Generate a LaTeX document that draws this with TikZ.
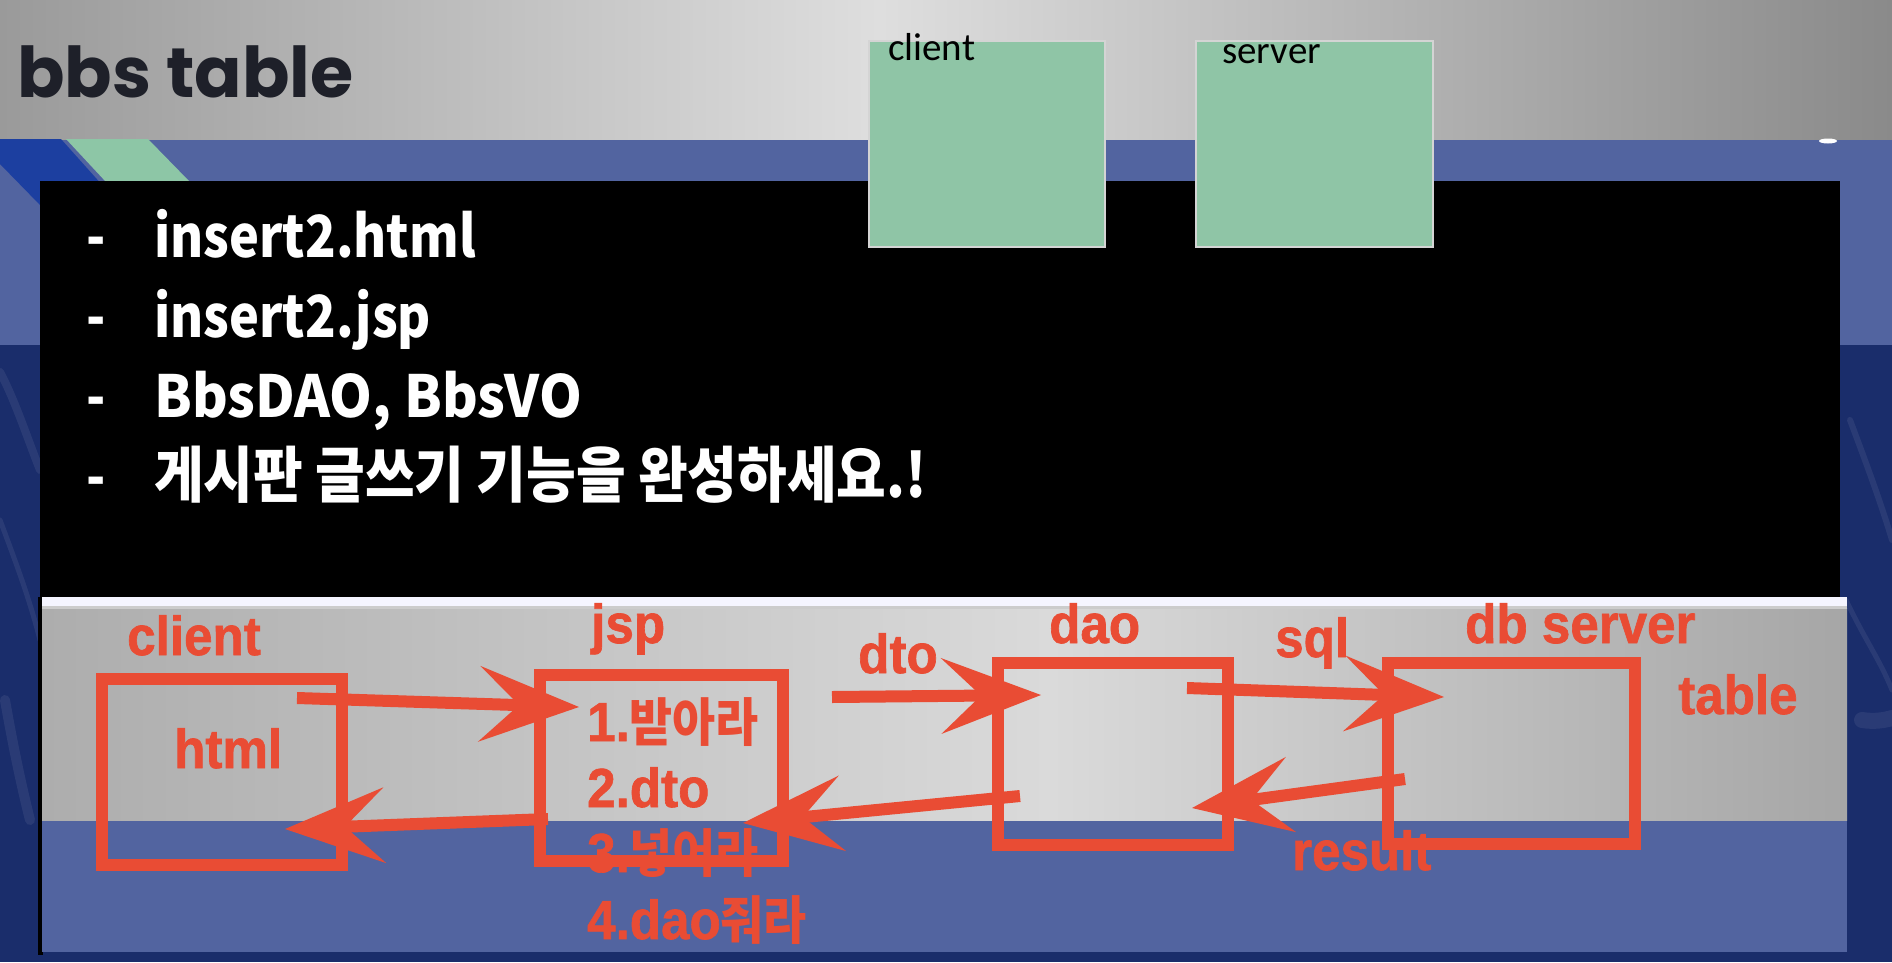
\documentclass[tikz,border=0pt]{standalone}
\usepackage{fontspec}
\usetikzlibrary{arrows.meta}
\newfontfamily\titlefont{Poppins}
\newfontfamily\carlfont{Carlito}
\newfontfamily\krfont{Noto Sans CJK KR}[FakeStretch=0.87]
\newfontfamily\krwide{Noto Sans CJK KR}[FakeStretch=0.94]
\newfontfamily\krnarrow{Noto Sans CJK KR}[FakeStretch=0.885]
\newfontfamily\redlatfont{Liberation Sans}[FakeStretch=0.93, FakeBold=1.2]
\newfontfamily\redkrfont{Noto Sans CJK KR}[FakeStretch=0.9]
\newcommand{\redL}{\redlatfont\bfseries\fontsize{55}{55}\selectfont}
\newcommand{\redK}{\redkrfont\bfseries\fontsize{52}{52}\selectfont}
\definecolor{hdrL}{HTML}{9A9A9A}
\definecolor{hdrM}{HTML}{DEDEDE}
\definecolor{hdrR}{HTML}{8A8A8A}
\definecolor{midblue}{HTML}{5264A0}
\definecolor{navy}{HTML}{1A2D6B}
\definecolor{darkblue}{HTML}{1C3FA0}
\definecolor{stripe}{HTML}{8DC6A6}
\definecolor{greenbox}{HTML}{8FC5A6}
\definecolor{greenedge}{HTML}{D4D4D4}
\definecolor{titlec}{HTML}{1E2029}
\definecolor{redc}{HTML}{E94C34}
\definecolor{imgL}{HTML}{ADADAD}
\definecolor{imgM}{HTML}{DADADA}
\definecolor{imgR}{HTML}{A6A6A6}
\tikzset{
  gbox/.style={draw=greenedge, line width=2pt, fill=greenbox, inner sep=0pt},
  glabel/.style={anchor=base west, inner sep=0pt, text=black, font=\carlfont\fontsize{39}{39}\selectfont},
  wtext/.style={anchor=base west, inner sep=0pt, text=white, font=\krfont\bfseries\fontsize{58}{58}\selectfont},
  wtextwide/.style={anchor=base west, inner sep=0pt, text=white, font=\krwide\bfseries\fontsize{58}{58}\selectfont},
  wkor/.style={anchor=base west, inner sep=0pt, text=white, font=\krnarrow\bfseries\fontsize{61}{61}\selectfont},
  rlabel/.style={anchor=base west, inner sep=0pt, text=redc},
  redbox/.style={draw=redc, line width=12pt, inner sep=0pt},
  redarrow/.style={draw=redc, line width=12pt,
    -{Stealth[length=100pt, width=76pt, inset=40pt, line width=0pt]}},
  streak/.style={white, opacity=0.07, line cap=round}
}
\begin{document}
\begin{tikzpicture}[x=1pt,y=-1pt]
\useasboundingbox (0,0) rectangle (1892,962);
% ---------- backgrounds ----------
\fill[navy] (0,0) rectangle (1892,962);
\fill[midblue] (0,139) rectangle (1892,345);
% photo streaks
\draw[streak, line width=8pt] (0,372) .. controls (15,400) and (28,440) .. (40,470);
\draw[streak, line width=5pt] (0,520) .. controls (15,560) and (30,600) .. (40,640);
\draw[streak, line width=10pt] (5,700) .. controls (12,740) and (20,780) .. (30,820);
\draw[streak, line width=6pt] (1850,420) .. controls (1865,460) and (1880,500) .. (1892,540);
\draw[streak, line width=16pt] (1862,720) .. controls (1875,722) and (1885,720) .. (1892,718);
\draw[streak, line width=5pt] (1846,600) .. controls (1865,640) and (1880,660) .. (1892,690);
% header
\shade[left color=hdrL, right color=hdrM] (0,0) rectangle (880,139);
\shade[left color=hdrM, right color=hdrR] (880,0) rectangle (1892,139);
\fill[white] (1828,141) ellipse (9 and 2.5);
% top-left decorations
\fill[darkblue] (0,139) -- (61,139) -- (120,205) -- (40,205) -- (0,164) -- cycle;
\fill[stripe] (66,139) -- (148,139) -- (190,182) -- (106,182) -- cycle;
% black panel
\fill[black] (40,181) rectangle (1840,597);
% pasted screenshot
\fill[black] (38,597) rectangle (43,955);
\fill[midblue] (42,597) rectangle (1847,952);
\shade[left color=imgL, right color=imgM] (42,608) rectangle (1050,820);
\shade[left color=imgM, right color=imgR] (1050,608) rectangle (1847,820);
\fill[white!96!blue] (42,597) rectangle (1847,606);
\fill[gray!40] (42,606) rectangle (1847,609);
% ---------- title ----------
\node[anchor=base west, inner sep=0pt, text=titlec,
  font=\titlefont\bfseries\fontsize{70}{70}\selectfont] (title) at (17,97) {bbs table};
% ---------- green boxes ----------
\node[gbox, minimum width=236pt, minimum height=206pt] (gclient) at (987,144) {};
\node[gbox, minimum width=237pt, minimum height=206pt] (gserver) at (1314.5,144) {};
\node[glabel] (gclientlbl) at (888,60) {client};
\node[glabel] (gserverlbl) at (1222,63) {server};
% ---------- black panel text ----------
\node[wtext] (dash1) at (86,257) {-};
\node[wtext] (line1) at (154,257) {insert2.html};
\node[wtext] (dash2) at (86,337) {-};
\node[wtext] (line2) at (154,337) {insert2.jsp};
\node[wtext] (dash3) at (86,417) {-};
\node[wtextwide] (line3) at (154,417) {BbsDAO, BbsVO};
\node[wtext] (dash4) at (86,497) {-};
\node[wkor] (line4) at (154,497) {게시판 글쓰기 기능을 완성하세요.!};
% ---------- red labels ----------
\node[rlabel] (lclient) at (127,655) {\redL client};
\node[rlabel] (lhtml) at (174,768) {\redL html};
\node[rlabel] (ljsp) at (591,643) {\redL jsp};
\node[rlabel] (ldto) at (858,673) {\redL dto};
\node[rlabel] (ldao) at (1049,643) {\redL dao};
\node[rlabel] (lsql) at (1275,657) {\redL sql};
\node[rlabel] (ldb) at (1465,643) {\redL db server};
\node[rlabel] (ltable) at (1678,714) {\redL table};
\node[rlabel] (lresult) at (1292,870) {\redL result};
\node[rlabel] (s1) at (587,741) {\redL 1.\redK 받아라};
\node[rlabel] (s2) at (587,807) {\redL 2.dto};
\node[rlabel] (s3) at (587,872) {\redL 3.\redK 넣어라};
\node[rlabel] (s4) at (587,939) {\redL 4.dao\redK 줘라};
% ---------- red boxes ----------
\node[redbox, minimum width=240pt, minimum height=186pt] (bclient) at (221.5,772) {};
\node[redbox, minimum width=243pt, minimum height=186pt] (bjsp) at (661.5,768) {};
\node[redbox, minimum width=230pt, minimum height=182pt] (bdao) at (1113,754) {};
\node[redbox, minimum width=247pt, minimum height=181pt] (bdb) at (1511.5,753.5) {};
% ---------- arrow ends ----------
\coordinate (a1s) at (297,698);  \coordinate (a1e) at (579,707);
\coordinate (a2s) at (548,819);  \coordinate (a2e) at (285,829);
\coordinate (a3s) at (832,697);  \coordinate (a3e) at (1041,695);
\coordinate (a4s) at (1020,796); \coordinate (a4e) at (743,823);
\coordinate (a5s) at (1187,688); \coordinate (a5e) at (1444,697);
\coordinate (a6s) at (1405,779); \coordinate (a6e) at (1192,808);
\draw[redarrow] (a1s) -- (a1e);
\draw[redarrow] (a2s) -- (a2e);
\draw[redarrow] (a3s) -- (a3e);
\draw[redarrow] (a4s) -- (a4e);
\draw[redarrow] (a5s) -- (a5e);
\draw[redarrow] (a6s) -- (a6e);
\end{tikzpicture}
\end{document}
